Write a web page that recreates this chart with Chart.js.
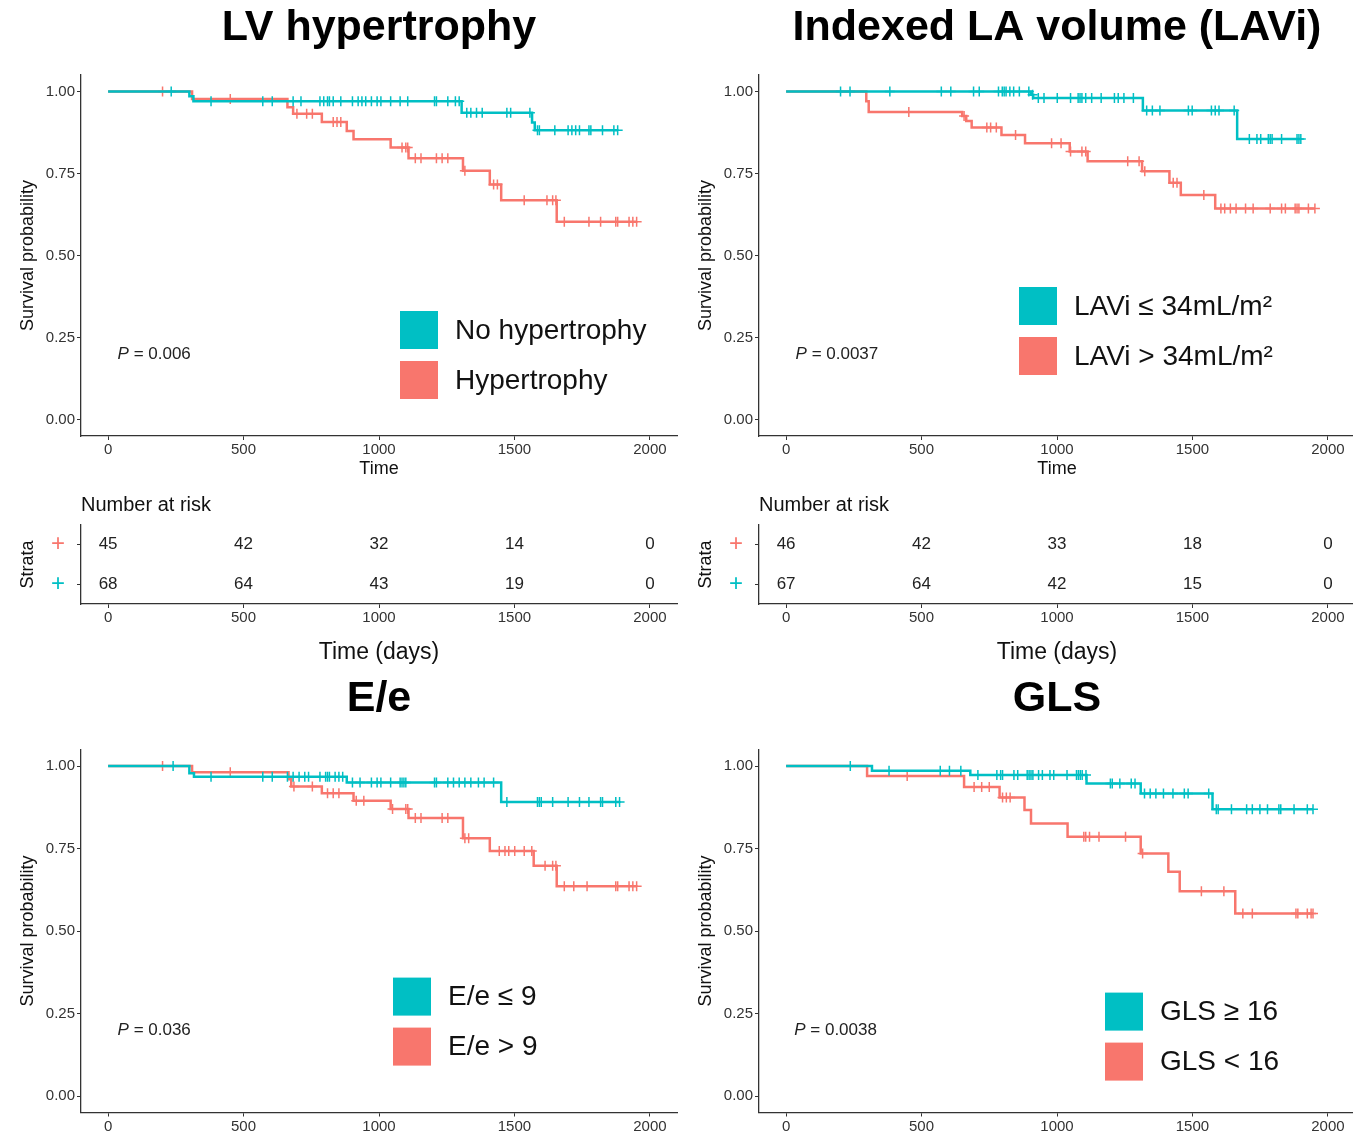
<!DOCTYPE html>
<html lang="en">
<head>
<meta charset="UTF-8">
<title>Kaplan-Meier curves</title>
<script src="https://cdn.jsdelivr.net/npm/chart.js@4"></script>
<style>
  html, body { margin: 0; padding: 0; background: #fff; overflow: hidden; }
  .panel { position: absolute; }
</style>
</head>
<body>
<div class="panel" style="left:0;top:0;width:678px;height:480px"><canvas id="lvhKm"></canvas></div>
<div class="panel" style="left:0;top:480px;width:678px;height:190px"><canvas id="lvhRisk"></canvas></div>
<div class="panel" style="left:678px;top:0;width:678px;height:480px"><canvas id="laviKm"></canvas></div>
<div class="panel" style="left:678px;top:480px;width:678px;height:190px"><canvas id="laviRisk"></canvas></div>
<div class="panel" style="left:0;top:670px;width:678px;height:463px"><canvas id="eeKm"></canvas></div>
<div class="panel" style="left:678px;top:670px;width:678px;height:463px"><canvas id="glsKm"></canvas></div>

<script>
const TEAL = '#00BFC4';
const RED = '#F8766D';
const FONT = '"Liberation Sans", Arial, Helvetica, sans-serif';

const timeTicks = [0, 500, 1000, 1500, 2000];
const survTicks = [0, 0.25, 0.5, 0.75, 1];

// LV hypertrophy
const lvhNoTimes = [0, 300, 315, 1305, 1565, 1575];
const lvhNoSurv = [1, 0.985, 0.970, 0.935, 0.905, 0.882];
const lvhNoCensor = [233, 380, 571, 606, 683, 712, 782, 796, 810, 817, 831, 859, 902, 923, 937, 951, 972, 993, 1007, 1043, 1078, 1106, 1205, 1212, 1254, 1282, 1296, 1324, 1339, 1360, 1381, 1472, 1486, 1557, 1585, 1592, 1649, 1698, 1712, 1726, 1740, 1775, 1782, 1825, 1867, 1881];
const lvhHyTimes = [0, 310, 662, 683, 789, 881, 906, 1043, 1109, 1310, 1409, 1451, 1656];
const lvhHySurv = [1, 0.977, 0.952, 0.932, 0.907, 0.879, 0.854, 0.829, 0.796, 0.758, 0.716, 0.668, 0.603];
const lvhHyCensor = [201, 451, 697, 733, 754, 831, 845, 859, 1085, 1099, 1106, 1134, 1155, 1212, 1233, 1254, 1317, 1423, 1437, 1536, 1620, 1641, 1653, 1684, 1775, 1818, 1874, 1881, 1923, 1937, 1951];
const lvhLabels = ['No hypertrophy', 'Hypertrophy'];
const lvhRiskHy = [45, 42, 32, 14, 0];
const lvhRiskNo = [68, 64, 43, 19, 0];

// Indexed LA volume
const laviLoTimes = [0, 903, 912, 1317, 1665];
const laviLoSurv = [1, 0.99, 0.98, 0.942, 0.855];
const laviLoCensor = [201, 236, 383, 573, 608, 692, 713, 784, 798, 805, 812, 826, 840, 861, 896, 910, 931, 952, 1001, 1050, 1078, 1085, 1092, 1106, 1128, 1163, 1212, 1226, 1247, 1282, 1331, 1352, 1380, 1485, 1499, 1570, 1584, 1598, 1654, 1710, 1738, 1752, 1780, 1787, 1794, 1829, 1886, 1893, 1900];
const laviHiTimes = [0, 296, 305, 650, 665, 685, 795, 882, 1047, 1113, 1314, 1415, 1457, 1584];
const laviHiSurv = [1, 0.97, 0.937, 0.925, 0.91, 0.89, 0.867, 0.842, 0.817, 0.787, 0.757, 0.722, 0.684, 0.643];
const laviHiCensor = [453, 657, 741, 755, 776, 847, 980, 1015, 1050, 1092, 1106, 1261, 1303, 1324, 1429, 1443, 1542, 1605, 1619, 1640, 1661, 1696, 1724, 1787, 1829, 1843, 1879, 1886, 1893, 1928, 1952];
const laviLabels = ['LAVi \u2264 34mL/m\u00B2', 'LAVi > 34mL/m\u00B2'];
const laviRiskHi = [46, 42, 33, 18, 0];
const laviRiskLo = [67, 64, 42, 15, 0];

// E/e
const eeLoTimes = [0, 300, 317, 881, 1451];
const eeLoSurv = [1, 0.978, 0.968, 0.95, 0.891];
const eeLoCensor = [240, 380, 571, 606, 662, 683, 705, 726, 740, 782, 803, 810, 817, 838, 852, 866, 902, 930, 972, 993, 1007, 1043, 1078, 1085, 1092, 1099, 1205, 1212, 1254, 1275, 1296, 1317, 1339, 1367, 1388, 1423, 1472, 1585, 1592, 1599, 1641, 1698, 1740, 1775, 1818, 1825, 1874, 1888];
const eeHiTimes = [0, 310, 666, 676, 789, 906, 1043, 1109, 1310, 1409, 1571, 1656];
const eeHiSurv = [1, 0.981, 0.96, 0.938, 0.918, 0.895, 0.87, 0.843, 0.781, 0.743, 0.698, 0.636];
const eeHiCensor = [201, 451, 686, 754, 810, 831, 852, 916, 944, 1050, 1099, 1106, 1134, 1155, 1233, 1254, 1317, 1331, 1444, 1465, 1479, 1501, 1536, 1564, 1613, 1641, 1653, 1684, 1719, 1768, 1874, 1881, 1923, 1937, 1951];
const eeLabels = ['E/e \u2264 9', 'E/e > 9'];

// GLS
const glsHiTimes = [0, 317, 680, 1109, 1309, 1574];
const glsHiSurv = [1, 0.986, 0.973, 0.947, 0.917, 0.869];
const glsHiCensor = [237, 380, 569, 603, 645, 708, 778, 792, 799, 841, 855, 890, 897, 904, 911, 932, 946, 974, 988, 1037, 1072, 1079, 1086, 1093, 1107, 1197, 1204, 1232, 1274, 1288, 1323, 1344, 1365, 1393, 1428, 1470, 1484, 1560, 1588, 1595, 1644, 1700, 1721, 1749, 1777, 1819, 1826, 1875, 1924, 1945];
const glsLoTimes = [0, 299, 657, 788, 880, 904, 1039, 1309, 1411, 1453, 1658];
const glsLoSurv = [1, 0.97, 0.937, 0.905, 0.867, 0.826, 0.786, 0.735, 0.68, 0.621, 0.553];
const glsLoCensor = [447, 694, 722, 750, 799, 813, 827, 1099, 1106, 1120, 1155, 1253, 1316, 1533, 1616, 1686, 1721, 1882, 1889, 1924, 1938, 1945];
const glsLabels = ['GLS \u2265 16', 'GLS < 16'];

// survival value of a step curve at time t
function stepAt(times, surv, t) {
    let s = surv[0];
    for (let i = 0; i < times.length; i++) {
        if (times[i] <= t) s = surv[i];
    }
    return s;
}

function curve(label, color, times, surv, censor) {
    const pts = times.map((t, i) => ({ x: t, y: surv[i] }));
    const end = Math.max(censor[censor.length - 1], times[times.length - 1]);
    pts.push({ x: end, y: surv[surv.length - 1] });
    return [
        {
            type: 'scatter',
            label: label + ' censored',
            data: censor.map(t => ({ x: t, y: stepAt(times, surv, t) })),
            pointStyle: 'cross',
            pointRadius: 5,
            pointBorderWidth: 1.5,
            borderColor: color,
            showLine: false
        },
        {
            type: 'line',
            label: label,
            data: pts,
            stepped: 'before',
            borderColor: color,
            borderWidth: 2.5,
            pointRadius: 0,
            fill: false,
            isCurve: true
        }
    ];
}

function axisLook() {
    return {
        grid: { drawOnChartArea: false, drawTicks: true, tickLength: 4, tickColor: '#333' },
        border: { display: true, color: '#333', width: 1.3 }
    };
}

function xScale(height, title, titleSize, titlePad) {
    return Object.assign({
        type: 'linear',
        min: -100,
        max: 2100,
        afterBuildTicks: s => { s.ticks = timeTicks.map(v => ({ value: v })); },
        afterFit: s => { s.height = height; s.paddingLeft = 0; s.paddingRight = 0; },
        ticks: {
            font: { size: 15, family: FONT }, color: '#333', padding: 1,
            maxRotation: 0, autoSkip: false, callback: v => String(v)
        },
        title: title ? {
            display: true, text: title, color: '#111',
            font: { size: titleSize, family: FONT },
            padding: { top: 0, bottom: titlePad }
        } : { display: false }
    }, axisLook());
}

// draws legend boxes and p value
const kmDecor = {
    id: 'kmDecor',
    afterDraw(chart, args, opts) {
        const { ctx, chartArea, scales } = chart;
        ctx.save();
        ctx.textBaseline = 'middle';
        ctx.textAlign = 'left';
        const px = scales.x.getPixelForValue(opts.pval.x);
        const py = scales.y.getPixelForValue(opts.pval.y);
        ctx.fillStyle = '#222';
        ctx.font = 'italic 17px ' + FONT;
        ctx.fillText('P', px, py);
        const w = ctx.measureText('P').width;
        ctx.font = '17px ' + FONT;
        ctx.fillText(' = ' + opts.pval.text, px + w, py);

        const curves = chart.data.datasets.filter(d => d.isCurve);
        curves.forEach((d, i) => {
            const lx = chartArea.left + opts.legend.dx;
            const ly = chartArea.top + opts.legend.dy + i * 50;
            ctx.fillStyle = d.borderColor;
            ctx.fillRect(lx, ly, 38, 38);
            ctx.fillStyle = '#111';
            ctx.font = '28px ' + FONT;
            ctx.fillText(d.label, lx + 55, ly + 20);
        });
        ctx.restore();
    }
};

function kmChart(id, title, labels, teal, red, pval, legendPos, bottom) {
    const datasets = [].concat(
        curve(labels[0], TEAL, teal[0], teal[1], teal[2]),
        curve(labels[1], RED, red[0], red[1], red[2])
    );
    return new Chart(document.getElementById(id), {
        type: 'line',
        data: { datasets: datasets },
        plugins: [kmDecor],
        options: {
            responsive: true,
            maintainAspectRatio: false,
            animation: false,
            events: [],
            layout: { autoPadding: false, padding: { top: 0, right: 1, bottom: 0, left: 0 } },
            plugins: {
                legend: { display: false },
                tooltip: { enabled: false },
                title: {
                    display: true, text: title, fullSize: false, color: '#000',
                    font: { size: 43, weight: 'bold', family: FONT, lineHeight: 1.2 },
                    padding: bottom ? { top: 3, bottom: 25 } : { top: 2, bottom: 21.4 }
                },
                kmDecor: { pval: pval, legend: legendPos }
            },
            scales: {
                x: bottom ? xScale(20.5, null) : xScale(44, 'Time', 18, 0),
                y: Object.assign({
                    type: 'linear',
                    min: -0.05,
                    max: 1.05,
                    afterBuildTicks: s => { s.ticks = survTicks.map(v => ({ value: v })); },
                    afterFit: s => { s.width = 81; s.paddingTop = 0; s.paddingBottom = 0; },
                    ticks: { font: { size: 15, family: FONT }, color: '#333', padding: 2, callback: v => v.toFixed(2) },
                    title: {
                        display: true, text: 'Survival probability', color: '#111',
                        font: { size: 18, family: FONT },
                        padding: { top: 17, bottom: 0 }
                    }
                }, axisLook())
            }
        }
    });
}

// number-at-risk text drawn at each point of the table
const riskText = {
    id: 'riskText',
    afterDatasetsDraw(chart) {
        const ctx = chart.ctx;
        ctx.save();
        ctx.font = '17px ' + FONT;
        ctx.fillStyle = '#222';
        ctx.textAlign = 'center';
        ctx.textBaseline = 'middle';
        chart.data.datasets.forEach((ds, di) => {
            chart.getDatasetMeta(di).data.forEach((el, i) => {
                ctx.fillText(String(ds.data[i].n), el.x, el.y);
            });
        });
        ctx.restore();
    }
};

function riskChart(id, strata, redRow, tealRow) {
    const rowColors = [RED, TEAL];
    const rows = [redRow, tealRow];
    return new Chart(document.getElementById(id), {
        type: 'scatter',
        data: {
            datasets: rows.map((row, r) => ({
                label: strata[r],
                data: timeTicks.map((t, i) => ({ x: t, y: strata[r], n: row[i] })),
                pointRadius: 0
            }))
        },
        plugins: [riskText],
        options: {
            responsive: true,
            maintainAspectRatio: false,
            animation: false,
            events: [],
            layout: { autoPadding: false, padding: { top: 0, right: 1, bottom: 0, left: 0 } },
            plugins: {
                legend: { display: false },
                tooltip: { enabled: false },
                title: {
                    display: true, text: 'Number at risk', align: 'start', fullSize: false, color: '#111',
                    font: { size: 20, weight: 'normal', family: FONT },
                    padding: { top: 13, bottom: 8 }
                }
            },
            scales: {
                x: xScale(66, 'Time (days)', 23, 4),
                y: Object.assign({
                    type: 'category',
                    labels: strata,
                    offset: true,
                    afterFit: s => { s.width = 81; s.paddingTop = 0; s.paddingBottom = 0; },
                    ticks: {
                        callback: () => '+',
                        color: c => rowColors[c.index],
                        font: { size: 24, family: FONT },
                        padding: 12
                    },
                    title: {
                        display: true, text: 'Strata', color: '#111',
                        font: { size: 18, family: FONT },
                        padding: { top: 17, bottom: 0 }
                    }
                }, axisLook())
            }
        }
    });
}

kmChart('lvhKm', 'LV hypertrophy', lvhLabels,
    [lvhNoTimes, lvhNoSurv, lvhNoCensor], [lvhHyTimes, lvhHySurv, lvhHyCensor],
    { x: 35, y: 0.2, text: '0.006' }, { dx: 319, dy: 236 }, false);
riskChart('lvhRisk', ['Hypertrophy', 'No hypertrophy'], lvhRiskHy, lvhRiskNo);

kmChart('laviKm', 'Indexed LA volume (LAVi)', laviLabels,
    [laviLoTimes, laviLoSurv, laviLoCensor], [laviHiTimes, laviHiSurv, laviHiCensor],
    { x: 35, y: 0.2, text: '0.0037' }, { dx: 260, dy: 212 }, false);
riskChart('laviRisk', ['LAVi > 34', 'LAVi <= 34'], laviRiskHi, laviRiskLo);

kmChart('eeKm', 'E/e', eeLabels,
    [eeLoTimes, eeLoSurv, eeLoCensor], [eeHiTimes, eeHiSurv, eeHiCensor],
    { x: 35, y: 0.2, text: '0.036' }, { dx: 312, dy: 228 }, true);

kmChart('glsKm', 'GLS', glsLabels,
    [glsHiTimes, glsHiSurv, glsHiCensor], [glsLoTimes, glsLoSurv, glsLoCensor],
    { x: 30, y: 0.2, text: '0.0038' }, { dx: 346, dy: 243 }, true);
</script>
</body>
</html>
